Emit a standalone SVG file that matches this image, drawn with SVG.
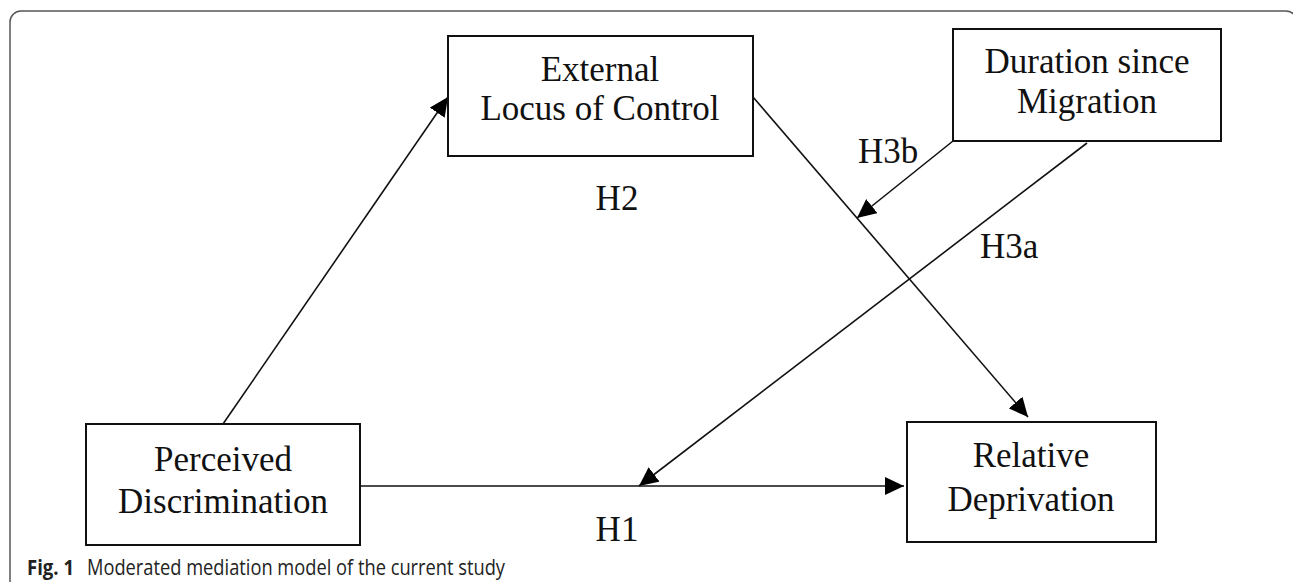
<svg xmlns="http://www.w3.org/2000/svg" width="1293" height="582" viewBox="0 0 1293 582">
<style>
.frame{fill:none;stroke:#555;stroke-width:1.5}
.box{fill:#fff;stroke:#111;stroke-width:2}
.lbl{font-family:"Liberation Serif","Times New Roman",serif;font-size:35px;fill:#111}
.mid{text-anchor:middle}
.conn{fill:none;stroke:#111;stroke-width:1.6}
.cap{font-family:"Open Sans","Noto Sans",sans-serif;font-size:21.5px;fill:#222}
</style>
<defs>
<marker id="arr" markerUnits="userSpaceOnUse" markerWidth="20" markerHeight="18" refX="19" refY="9" orient="auto" viewBox="0 0 20 18">
<path d="M0,0 L19,9 L0,18 z" fill="#000"/>
</marker>
</defs>
<rect width="1293" height="582" fill="#fff"/>
<rect class="frame" x="10" y="11" width="1287" height="620" rx="11"/>
<g id="connectors">
<path class="conn" d="M223,424 L448,97" marker-end="url(#arr)"/>
<path class="conn" d="M753,97 L1028,417" marker-end="url(#arr)"/>
<path class="conn" d="M953,141 L857,218" marker-end="url(#arr)"/>
<path class="conn" d="M1087,143 L639,486" marker-end="url(#arr)"/>
<path class="conn" d="M360,486 L904,486" stroke-width="2" marker-end="url(#arr)"/>
</g>
<g id="node-external">
<rect class="box" x="448" y="36" width="305" height="120"/>
<text class="lbl mid" x="600" y="81">External</text>
<text class="lbl mid" x="600" y="120">Locus of Control</text>
</g>
<g id="node-duration">
<rect class="box" x="953" y="29" width="268" height="112"/>
<text class="lbl mid" x="1087" y="73">Duration since</text>
<text class="lbl mid" x="1087" y="113">Migration</text>
</g>
<g id="node-perceived">
<rect class="box" x="86" y="424" width="274" height="121"/>
<text class="lbl mid" x="223" y="471">Perceived</text>
<text class="lbl mid" x="223" y="513">Discrimination</text>
</g>
<g id="node-relative">
<rect class="box" x="907" y="422" width="249" height="120"/>
<text class="lbl mid" x="1031" y="467">Relative</text>
<text class="lbl mid" x="1031" y="511">Deprivation</text>
</g>
<g id="labels">
<text class="lbl mid" x="617" y="210">H2</text>
<text class="lbl" x="858" y="163">H3b</text>
<text class="lbl" x="980" y="258">H3a</text>
<text class="lbl mid" x="617" y="541">H1</text>
</g>
<g id="caption">
<text class="cap" x="27" y="575" font-weight="bold" textLength="47" lengthAdjust="spacingAndGlyphs">Fig. 1</text>
<text class="cap" x="87" y="575" textLength="418" lengthAdjust="spacingAndGlyphs">Moderated mediation model of the current study</text>
</g>
</svg>
